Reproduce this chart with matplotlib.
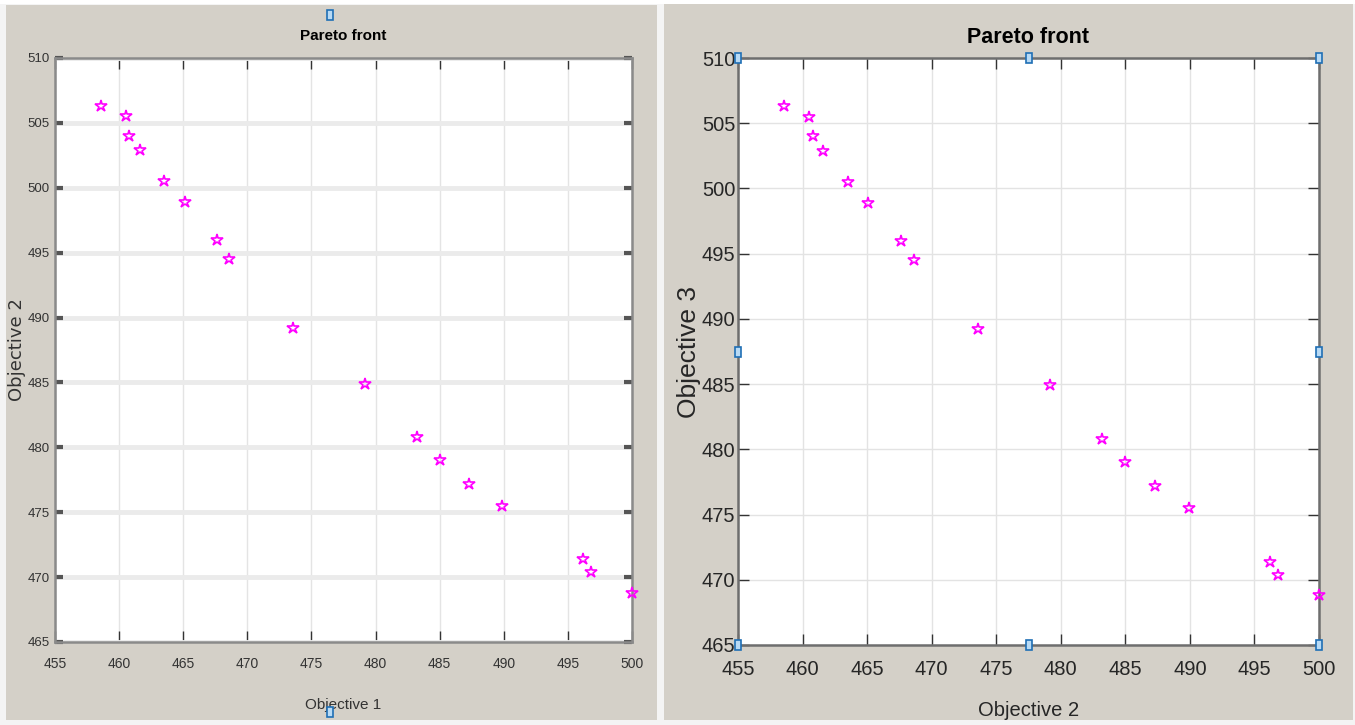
import matplotlib
matplotlib.use("Agg")
import matplotlib.pyplot as plt
from matplotlib.patches import Rectangle

# --- Data ---
obj_a = [458.6, 460.5, 460.8, 461.6, 463.5, 465.1, 467.6, 468.6, 473.6,
         479.2, 483.2, 485.0, 487.3, 489.9, 496.2, 496.8, 500.0]
obj_b = [506.3, 505.5, 504.0, 502.9, 500.5, 498.9, 496.0, 494.5, 489.2,
         484.9, 480.8, 479.0, 477.2, 475.5, 471.4, 470.4, 468.8]

x_ticks = [455, 460, 465, 470, 475, 480, 485, 490, 495, 500]
y_ticks = [465, 470, 475, 480, 485, 490, 495, 500, 505, 510]

W, H = 1355, 725
PANEL = "#d4d0c8"
NARROW = ["Liberation Sans Narrow", "Liberation Sans"]
ARIAL = ["Liberation Sans", "DejaVu Sans"]

fig = plt.figure(figsize=(W / 100, H / 100), dpi=100)
fig.patch.set_facecolor("#f4f4f4")


def px_rect(x0, y0, x1, y1, **kw):
    # rectangle given in image pixels (origin top-left)
    r = Rectangle((x0 / W, 1 - y1 / H), (x1 - x0) / W, (y1 - y0) / H,
                  transform=fig.transFigure, **kw)
    fig.add_artist(r)
    return r


def handle(x, y):
    px_rect(x - 3, y - 5, x + 3, y + 5, facecolor="#b8daf5",
            edgecolor="#1f6fb5", linewidth=1.2, zorder=20)


def ax_box(x0, y0, x1, y1):
    return fig.add_axes([x0 / W, 1 - y1 / H, (x1 - x0) / W, (y1 - y0) / H])


# gray window backgrounds
px_rect(0, 0, W, 4, facecolor="white", edgecolor="none", zorder=0)
px_rect(6, 5, 657, 720, facecolor=PANEL, edgecolor="none", zorder=0)
px_rect(664, 4, 1353, 720, facecolor=PANEL, edgecolor="none", zorder=0)

# --- Left panel ---
ax1 = ax_box(55, 58, 632, 642)
ax1.plot(obj_a, obj_b, linestyle="none", marker="*", markersize=9,
         markerfacecolor="none", markeredgecolor="#ff00ff", markeredgewidth=1.2,
         clip_on=False, zorder=5)
ax1.set_xlim(455, 500)
ax1.set_ylim(465, 510)
ax1.set_xticks(x_ticks)
ax1.set_yticks(y_ticks)
ax1.grid(axis="y", color="#ebebeb", linewidth=3.5)
ax1.grid(axis="x", color="#e4e4e4", linewidth=1)
ax1.set_axisbelow(True)
ax1.tick_params(axis="x", direction="in", length=8, width=1, color="#333333",
                top=True, labelsize=10, labelcolor="#333333", pad=11)
ax1.tick_params(axis="y", direction="in", length=6, width=3, color="#555555",
                right=True, labelsize=9.5, labelcolor="#333333", pad=4)
for lab in ax1.get_xticklabels() + ax1.get_yticklabels():
    lab.set_family(NARROW)
for s in ax1.spines.values():
    s.set_color("#8a8a8a")
    s.set_linewidth(1.8)
ax1.set_title("Pareto front", fontsize=11, fontweight="bold",
              family=NARROW, pad=13)
ax1.set_xlabel("Objective 1", fontsize=11, color="#333333", family=NARROW)
ax1.xaxis.set_label_coords(0.5, -0.096)
ax1.set_ylabel("Objective 2", fontsize=13, color="#333333")
ax1.yaxis.set_label_coords(-0.05, 0.5)
handle(330, 15)
handle(330, 712)

# --- Right panel ---
ax2 = ax_box(738, 58, 1319, 645)
ax2.plot(obj_a, obj_b, linestyle="none", marker="*", markersize=9,
         markerfacecolor="none", markeredgecolor="#ff00ff", markeredgewidth=1.2,
         clip_on=False, zorder=5)
ax2.set_xlim(455, 500)
ax2.set_ylim(465, 510)
ax2.set_xticks(x_ticks)
ax2.set_yticks(y_ticks)
ax2.grid(color="#e3e3e3", linewidth=1)
ax2.set_axisbelow(True)
ax2.tick_params(direction="in", length=8, width=1, color="#333333",
                top=True, right=True, labelsize=14.5, labelcolor="#262626")
ax2.tick_params(axis="x", pad=11)
ax2.tick_params(axis="y", pad=2)
for lab in ax2.get_xticklabels() + ax2.get_yticklabels():
    lab.set_family(ARIAL)
for s in ax2.spines.values():
    s.set_color("#6e6e6e")
    s.set_linewidth(1.8)
ax2.set_title("Pareto front", fontsize=15.5, fontweight="bold", family=ARIAL, pad=11)
ax2.set_xlabel("Objective 2", fontsize=14.5, color="#262626", family=ARIAL)
ax2.xaxis.set_label_coords(0.5, -0.095)
ax2.set_ylabel("Objective 3", fontsize=19, color="#262626", family=ARIAL)
ax2.yaxis.set_label_coords(-0.064, 0.5)
for hx in (738, 1029, 1319):
    handle(hx, 58)
    handle(hx, 645)
handle(738, 352)
handle(1319, 352)

fig.savefig("out.png", dpi=100, facecolor=fig.get_facecolor())
